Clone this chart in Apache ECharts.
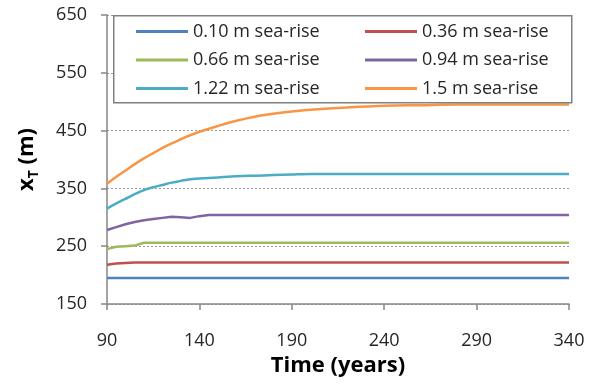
<!DOCTYPE html>
<html>
<head>
<meta charset="utf-8">
<script src="https://cdn.jsdelivr.net/npm/echarts@6/dist/echarts.min.js"></script>
<style>html,body{margin:0;padding:0;background:#fff;}#c{width:596px;height:383px;}</style>
</head>
<body>
<div id="c"></div>
<script>
var years = [90, 95, 100, 105, 110, 115, 120, 125, 130, 135, 140, 145, 150, 160, 170, 180, 190, 200, 220, 240, 260, 280, 300, 320, 340];
var seriesNames = ['0.10 m sea-rise', '0.36 m sea-rise', '0.66 m sea-rise', '0.94 m sea-rise', '1.22 m sea-rise', '1.5 m sea-rise'];
var rise010 = [195, 195, 195, 195, 195, 195, 195, 195, 195, 195, 195, 195, 195, 195, 195, 195, 195, 195, 195, 195, 195, 195, 195, 195, 195];
var rise036 = [218, 220, 221, 222, 222, 222, 222, 222, 222, 222, 222, 222, 222, 222, 222, 222, 222, 222, 222, 222, 222, 222, 222, 222, 222];
var rise066 = [245, 249, 250, 251, 256, 256, 256, 256, 256, 256, 256, 256, 256, 256, 256, 256, 256, 256, 256, 256, 256, 256, 256, 256, 256];
var rise094 = [278, 283, 288, 292, 295, 297, 299, 301, 300, 299, 302, 304, 304, 304, 304, 304, 304, 304, 304, 304, 304, 304, 304, 304, 304];
var rise122 = [315, 324, 332, 340, 347, 352, 356, 360, 363, 366, 367, 368, 369, 371, 372, 373, 374, 375, 375, 375, 375, 375, 375, 375, 375];
var rise150 = [358, 370, 381, 392, 402, 411, 420, 428, 435, 442, 448, 453, 458, 467, 474, 479, 483, 486, 490, 493, 494, 495, 495, 495, 495];
var yTicks = [150, 250, 350, 450, 550, 650];
var xTicks = [90, 140, 190, 240, 290, 340];

var allValues = [rise010, rise036, rise066, rise094, rise122, rise150];
var colors = ['#4F81BD', '#C0504D', '#9BBB59', '#8064A2', '#4BACC6', '#F79646'];
var smooths = [false, false, false, false, 0.3, 0.3];

function pairs(vals) { return years.map(function (y, i) { return [y, vals[i]]; }); }

var series = allValues.map(function (vals, i) {
  return {
    name: seriesNames[i], type: 'line', data: pairs(vals), showSymbol: false, symbol: 'none',
    smooth: smooths[i], color: colors[i], lineStyle: { width: 2.5, color: colors[i] }, z: 2
  };
});

var font = '"Open Sans", "DejaVu Sans", sans-serif';
var legendCommon = {
  orient: 'vertical', icon: 'rect', itemWidth: 52, itemHeight: 3, itemGap: 8.5, padding: 0,
  textStyle: { fontFamily: font, fontSize: 18, color: '#262626', lineHeight: 20 },
  selectedMode: false, z: 10
};

var chart = echarts.init(document.getElementById('c'), null, { renderer: 'canvas' });
chart.setOption({
  animation: false,
  backgroundColor: '#fff',
  grid: { left: 107, right: 27, top: 15, bottom: 79, containLabel: false },
  graphic: [{
    type: 'rect', left: 113, top: 15, z: 5,
    shape: { width: 458, height: 87 },
    style: { fill: '#fff', stroke: '#808080', lineWidth: 1.5 }
  }],
  legend: [
    Object.assign({ left: 136, top: 21.5, data: [seriesNames[0], seriesNames[2], seriesNames[4]] }, legendCommon),
    Object.assign({ left: 365, top: 21.5, data: [seriesNames[1], seriesNames[3], seriesNames[5]] }, legendCommon)
  ],
  xAxis: {
    type: 'value', min: xTicks[0], max: xTicks[xTicks.length - 1], interval: 50,
    name: 'Time (years)', nameLocation: 'middle', nameGap: 47,
    nameTextStyle: { fontFamily: font, fontSize: 22, fontWeight: 'bold', color: '#000' },
    axisLine: { show: true, lineStyle: { color: '#868686', width: 1.5 } },
    axisTick: { show: true, inside: false, length: 6, lineStyle: { color: '#868686', width: 1.5 } },
    axisLabel: { margin: 28, fontFamily: font, fontSize: 18, color: '#262626' },
    splitLine: { show: false }
  },
  yAxis: {
    type: 'value', min: yTicks[0], max: yTicks[yTicks.length - 1], interval: 100,
    name: '{x|x}{t|T}{m| (m)}', nameLocation: 'middle', nameGap: 69,
    nameTextStyle: {
      fontFamily: font, fontSize: 22, fontWeight: 'bold', color: '#000',
      rich: {
        x: { fontFamily: font, fontSize: 22, fontWeight: 'bold', color: '#000', lineHeight: 26, verticalAlign: 'bottom' },
        t: { fontFamily: font, fontSize: 14, fontWeight: 'bold', color: '#000', lineHeight: 14, verticalAlign: 'bottom', padding: [0, 0, -3, 0] },
        m: { fontFamily: font, fontSize: 22, fontWeight: 'bold', color: '#000', lineHeight: 26, verticalAlign: 'bottom' }
      }
    },
    axisLine: { show: true, lineStyle: { color: '#868686', width: 1.5 } },
    axisTick: { show: true, inside: false, length: 6, lineStyle: { color: '#868686', width: 1.5 } },
    axisLabel: { margin: 20, fontFamily: font, fontSize: 18, color: '#262626' },
    splitLine: { show: true, lineStyle: { color: '#999', type: [2, 2], width: 1 } }
  },
  series: series
});
</script>
</body>
</html>
